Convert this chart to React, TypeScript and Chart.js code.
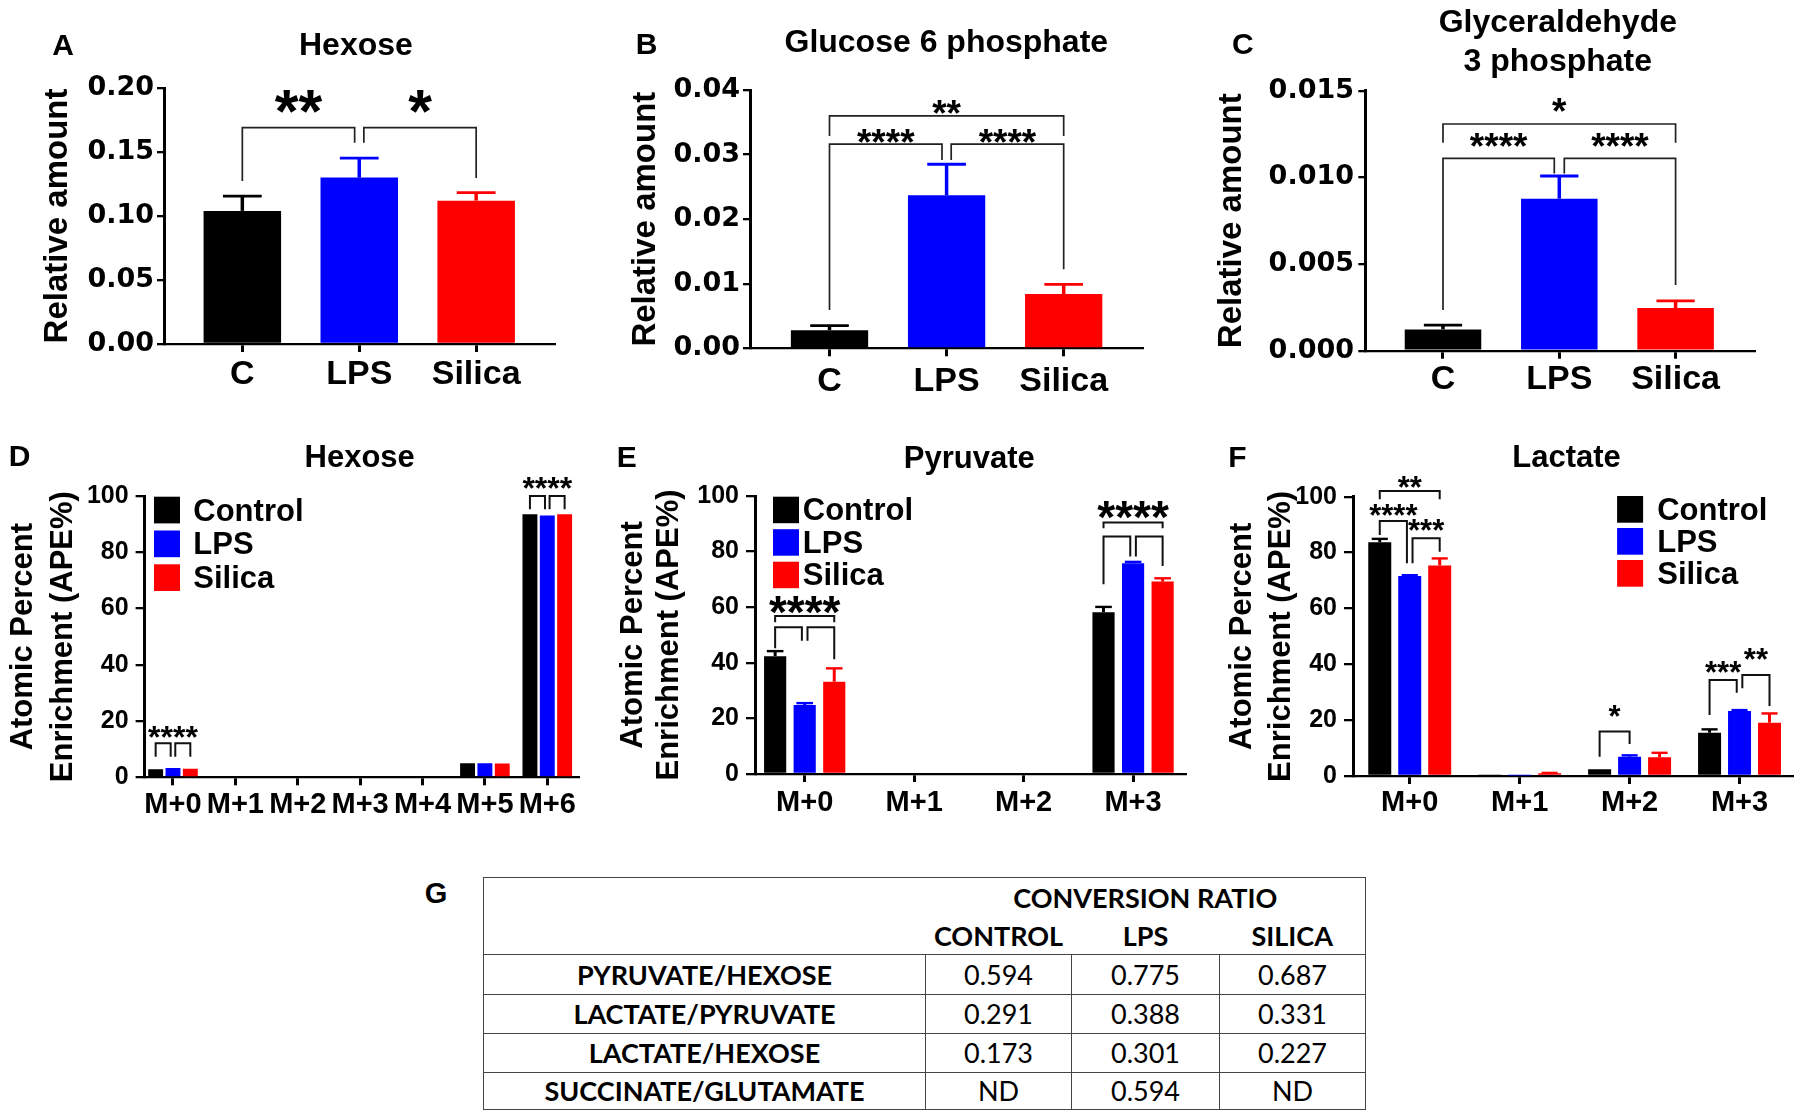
import React, { useEffect, useRef } from "react";
import { Chart, registerables } from "chart.js";

Chart.register(...registerables);

// ---------------- data ----------------
const groupLabels = ["C", "LPS", "Silica"];
const groupColors = ["#000000", "#0000ff", "#ff0000"];

const hexoseRel = [0.104, 0.13, 0.112];
const hexoseRelSem = [0.0115, 0.0152, 0.0063];
const hexoseRelTicks = [0, 0.05, 0.1, 0.15, 0.2];

const g6pRel = [0.0028, 0.0237, 0.0084];
const g6pRelSem = [0.0007, 0.0048, 0.0015];
const g6pRelTicks = [0, 0.01, 0.02, 0.03, 0.04];

const g3pRel = [0.00123, 0.00877, 0.00246];
const g3pRelSem = [0.00025, 0.00131, 0.00041];
const g3pRelTicks = [0, 0.005, 0.01, 0.015];

const seriesNames = ["Control", "LPS", "Silica"];
const apeTicks = [0, 20, 40, 60, 80, 100];

const hexIsotopologues = ["M+0", "M+1", "M+2", "M+3", "M+4", "M+5", "M+6"];
const hexControl = [2.9, 0, 0, 0, 0, 5.0, 93.5];
const hexLps = [3.3, 0, 0, 0, 0, 5.0, 93.1];
const hexSilica = [3.0, 0, 0, 0, 0, 4.9, 93.5];

const pyrIsotopologues = ["M+0", "M+1", "M+2", "M+3"];
const pyrControl = [42.4, 0, 0, 58.2];
const pyrControlSem = [1.8, 0, 0, 1.9];
const pyrLps = [24.8, 0, 0, 75.8];
const pyrLpsSem = [0.7, 0, 0, 0.5];
const pyrSilica = [33.2, 0, 0, 69.2];
const pyrSilicaSem = [4.8, 0, 0, 1.2];

const lacIsotopologues = ["M+0", "M+1", "M+2", "M+3"];
const lacControl = [83.7, 0.5, 2.4, 15.5];
const lacControlSem = [1.2, 0, 0, 1.2];
const lacLps = [71.6, 0.2, 6.9, 23.3];
const lacLpsSem = [0.3, 0, 0.5, 0.3];
const lacSilica = [75.4, 1.0, 6.7, 19.1];
const lacSilicaSem = [2.5, 0.1, 1.6, 3.3];

// significance brackets (value units):
// [catA, seriesA, catB, seriesB, yTop, yDropA, yDropB, yLabel, label]
const hexoseRelSig = [
  [0, 0, 1, 0, 0.169, 0.1273, 0.1573, 0.1883, "**"],
  [1, 0, 2, 0, 0.169, 0.1573, 0.1297, 0.1883, "*"],
];
const g6pSig = [
  [0, 0, 2, 0, 0.036, 0.03286, 0.03286, 0.03724, "**"],
  [0, 0, 1, 0, 0.03163, 0.00593, 0.02915, 0.03271, "****"],
  [1, 0, 2, 0, 0.03163, 0.02915, 0.01223, 0.03271, "****"],
];
const g3pSig = [
  [0, 0, 2, 0, 0.01308, 0.012, 0.012, 0.01408, "*"],
  [0, 0, 1, 0, 0.0111, 0.00235, 0.01023, 0.01206, "****"],
  [1, 0, 2, 0, 0.0111, 0.01023, 0.00379, 0.01206, "****"],
];
const hexApeSig = [
  [0, 0, 0, 1, 12.1, 7.3, 7.3, 0, ""],
  [0, 1, 0, 2, 12.1, 7.3, 7.3, 0, ""],
  [6, 0, 6, 1, 100.0, 95.3, 95.3, 0, ""],
  [6, 1, 6, 2, 100.0, 95.3, 95.3, 0, ""],
];
// [cat, series, yLabel, label]
const hexApeSigLabels = [
  [0, 1, 15.9, "****"],
  [6, 1, 104.5, "****"],
];
const pyrSig = [
  [0, 0, 0, 2, 56.8, 54.6, 54.6, 60.5, "****"],
  [0, 0, 0, 1, 52.8, 45.2, 47.9, 0, ""],
  [0, 1, 0, 2, 52.8, 47.9, 41.3, 0, ""],
  [3, 0, 3, 2, 90.5, 88.4, 88.4, 94.7, "****"],
  [3, 0, 3, 1, 85.4, 68.3, 78.2, 0, ""],
  [3, 1, 3, 2, 85.4, 78.2, 74.8, 0, ""],
];
const lacSig = [
  [0, 0, 0, 2, 102.0, 99.1, 99.1, 104.8, "**"],
  [0, 0, 0, 1, 91.3, 86.3, 76.2, 95.0, "****"],
  [0, 1, 0, 2, 85.1, 76.2, 80.3, 89.5, "***"],
  [2, 0, 2, 1, 15.9, 6.9, 11.5, 22.7, "*"],
  [3, 0, 3, 1, 34.4, 21.8, 29.8, 38.6, "***"],
  [3, 1, 3, 2, 36.2, 31.4, 25.1, 43.3, "**"],
];

// table G
const ratioHeader = "CONVERSION RATIO";
const ratioGroups = ["CONTROL", "LPS", "SILICA"];
const ratioRows = ["PYRUVATE/HEXOSE", "LACTATE/PYRUVATE", "LACTATE/HEXOSE", "SUCCINATE/GLUTAMATE"];
const ratioControl = ["0.594", "0.291", "0.173", "ND"];
const ratioLps = ["0.775", "0.388", "0.301", "0.594"];
const ratioSilica = ["0.687", "0.331", "0.227", "ND"];

// ---------------- layout / style ----------------
const FONT = '"Liberation Sans", Arial, Helvetica, sans-serif';
const WIDE_FONT = '"DejaVu Sans", "Liberation Sans", Arial, sans-serif';
const STAR_MID = 0.48;

const isoSeries = (c: number[], l: number[], s: number[], cs?: number[], ls?: number[], ss?: number[]) => [
  { name: seriesNames[0], color: groupColors[0], values: c, sem: cs },
  { name: seriesNames[1], color: groupColors[1], values: l, sem: ls },
  { name: seriesNames[2], color: groupColors[2], values: s, sem: ss },
];

const relCommon = {
  yTickFont: WIDE_FONT, yTickSize: 27, yTickLen: 7, xTickLen: 8,
  yTitle: "Relative amount", yTitleSize: 33, yTitleLH: 1.1,
  xTickSize: 34, titleSize: 32,
  sigWidth: 1.7, sigColor: "#222", errWidth: 3.5, capRatio: 0.5, legend: null, sigLabels: [],
  yBorder: 3, xBorder: 2.3,
};
const apeCommon = {
  yTickFont: FONT, yTickSize: 25, yTickLen: 9, xTickLen: 8,
  yTitle: ["Atomic Percent", "Enrichment (APE%)"], yTitleSize: 31,
  xTickSize: 29, titleSize: 31, yTicks: apeTicks, yDec: 0,
  sigWidth: 2, sigColor: "#111", errWidth: 3, yBorder: 3, xBorder: 2.3,
};

const panels: any[] = [
  {
    ...relCommon,
    key: "A", box: [0, 0, 600, 420], area: [164, 88, 554.5, 344],
    cats: groupLabels, xRange: [-0.67, 2.67], catPct: 1, barPct: 0.663,
    series: [{ name: "Hexose", color: groupColors, values: hexoseRel, sem: hexoseRelSem }],
    yTicks: hexoseRelTicks, yDec: 2, yTitleX: 58.4,
    xTickCenter: 375, yTickRight: 154,
    title: ["Hexose"], titleX: 355.9, titleY: [46],
    letter: "A", letterX: 63.1, letterY: 46.7,
    sig: hexoseRelSig, starSize: 61, gap: 4.6,
  },
  {
    ...relCommon,
    key: "B", box: [600, 0, 600, 420], area: [750.0, 90, 1142.6, 348.3],
    cats: groupLabels, xRange: [-0.679, 2.674], catPct: 1, barPct: 0.66,
    series: [{ name: "Glucose 6 phosphate", color: groupColors, values: g6pRel, sem: g6pRelSem }],
    yTicks: g6pRelTicks, yDec: 2, yTitleX: 645.9,
    xTickCenter: 381.7, yTickRight: 740,
    title: ["Glucose 6 phosphate"], titleX: 946.3, titleY: [43.3],
    letter: "B", letterX: 646.7, letterY: 45.3,
    sig: g6pSig, starSize: 37, gap: 4.6,
  },
  {
    ...relCommon,
    key: "C", box: [1200, 0, 600, 420], area: [1365.3, 90.7, 1754.1, 350.7],
    cats: groupLabels, xRange: [-0.668, 2.675], catPct: 1, barPct: 0.658,
    series: [{ name: "Glyceraldehyde 3 phosphate", color: groupColors, values: g3pRel, sem: g3pRelSem }],
    yTicks: g3pRelTicks, yDec: 3, yTitleX: 1232.1,
    xTickCenter: 380, yTickRight: 1354,
    title: ["Glyceraldehyde", "3 phosphate"], titleX: 1557.8, titleY: [23.3, 62.5],
    letter: "C", letterX: 1242.8, letterY: 45.8,
    sig: g3pSig, starSize: 37, gap: 5,
  },
  {
    ...apeCommon,
    key: "D", box: [0, 420, 600, 440], area: [144.6, 496, 578.6, 777.3],
    cats: hexIsotopologues, xRange: [-0.455, 6.502], catPct: 0.834, barPct: 0.86,
    series: isoSeries(hexControl, hexLps, hexSilica),
    yTitleLH: 1.29, yTitleX: 23,
    xTickCenter: 805, yTickRight: 128.6,
    title: ["Hexose"], titleX: 359.7, titleY: [458.3],
    letter: "D", letterX: 19.7, letterY: 457.3,
    sig: hexApeSig, sigLabels: hexApeSigLabels, starSize: 32, gap: 2.3, capRatio: 0.7,
    legend: { x: 154, y: 496.7, sw: 26, sh: 26.7, pitch: 33.8, tx: 193.3, size: 31 },
  },
  {
    ...apeCommon,
    key: "E", box: [600, 420, 600, 440], area: [755, 496, 1185.5, 774],
    cats: pyrIsotopologues, xRange: [-0.454, 3.479], catPct: 0.81, barPct: 0.75,
    series: isoSeries(pyrControl, pyrLps, pyrSilica, pyrControlSem, pyrLpsSem, pyrSilicaSem),
    yTitleLH: 1.18, yTitleX: 633.3,
    xTickCenter: 803, yTickRight: 739,
    title: ["Pyruvate"], titleX: 969.3, titleY: [459.3],
    letter: "E", letterX: 626.7, letterY: 459,
    sig: pyrSig, sigLabels: [], starSize: 46, gap: 2.8, capRatio: 0.75,
    legend: { x: 773, y: 496.7, sw: 26, sh: 26.5, pitch: 32.5, tx: 802.8, size: 31 },
  },
  {
    ...apeCommon,
    key: "F", box: [1200, 420, 600, 440], area: [1353, 496.7, 1792.3, 776],
    cats: lacIsotopologues, xRange: [-0.516, 3.48], catPct: 0.818, barPct: 0.767,
    series: isoSeries(lacControl, lacLps, lacSilica, lacControlSem, lacLpsSem, lacSilicaSem),
    yTitleLH: 1.26, yTitleX: 1242.1,
    xTickCenter: 802.5, yTickRight: 1337,
    title: ["Lactate"], titleX: 1566.5, titleY: [458.3],
    letter: "F", letterX: 1237.3, letterY: 458.3,
    sig: lacSig, sigLabels: [], starSize: 31, gap: 2.8, capRatio: 0.7,
    legend: { x: 1617.1, y: 496, sw: 26, sh: 26.7, pitch: 32, tx: 1657.2, size: 31 },
  },
];

function makeOverlay(p: any) {
  const ox = p.box[0];
  const oy = p.box[1];
  return {
    id: "overlay" + p.key,
    afterDatasetsDraw(chart: any) {
      const ctx = chart.ctx;
      const ys = chart.scales.y;
      ctx.save();
      // error bars (upper SEM)
      p.series.forEach((s: any, di: number) => {
        const meta = chart.getDatasetMeta(di);
        meta.data.forEach((bar: any, i: number) => {
          const e = s.sem ? s.sem[i] : 0;
          if (!e) return;
          const col = Array.isArray(s.color) ? s.color[i] : s.color;
          const top = ys.getPixelForValue(s.values[i] + e);
          const half = (bar.width * p.capRatio) / 2;
          ctx.strokeStyle = col;
          ctx.lineCap = "butt";
          ctx.lineWidth = p.errWidth;
          ctx.beginPath();
          ctx.moveTo(bar.x, bar.y);
          ctx.lineTo(bar.x, top);
          ctx.stroke();
          ctx.lineWidth = p.errWidth * 0.8;
          ctx.beginPath();
          ctx.moveTo(bar.x - half, top);
          ctx.lineTo(bar.x + half, top);
          ctx.stroke();
        });
      });
      // significance brackets
      const xOf = (c: number, s: number) => chart.getDatasetMeta(s).data[c].x;
      ctx.strokeStyle = p.sigColor;
      ctx.lineWidth = p.sigWidth;
      ctx.lineJoin = "miter";
      ctx.fillStyle = "#000";
      ctx.font = `bold ${p.starSize}px ${FONT}`;
      ctx.textAlign = "center";
      ctx.textBaseline = "alphabetic";
      p.sig.forEach((b: any) => {
        const [ca, sa, cb, sb, yTop, yA, yB, yT, label] = b;
        let xa = xOf(ca, sa);
        let xb = xOf(cb, sb);
        if (p.sig.some((o: any) => o !== b && o[0] === cb && o[1] === sb)) xb -= p.gap;
        if (p.sig.some((o: any) => o !== b && o[2] === ca && o[3] === sa)) xa += p.gap;
        const pt = ys.getPixelForValue(yTop);
        ctx.beginPath();
        ctx.moveTo(xa, ys.getPixelForValue(yA));
        ctx.lineTo(xa, pt);
        ctx.lineTo(xb, pt);
        ctx.lineTo(xb, ys.getPixelForValue(yB));
        ctx.stroke();
        if (label) ctx.fillText(label, (xa + xb) / 2, ys.getPixelForValue(yT) + p.starSize * STAR_MID);
      });
      (p.sigLabels || []).forEach((l: any) => {
        const [c, s, yT, label] = l;
        ctx.fillText(label, xOf(c, s), ys.getPixelForValue(yT) + p.starSize * STAR_MID);
      });
      ctx.restore();
    },
    afterDraw(chart: any) {
      const ctx = chart.ctx;
      ctx.save();
      ctx.fillStyle = "#000";
      ctx.textAlign = "center";
      ctx.textBaseline = "middle";
      ctx.font = `bold ${p.titleSize}px ${FONT}`;
      p.title.forEach((t: string, i: number) => ctx.fillText(t, p.titleX - ox, p.titleY[i] - oy));
      ctx.font = `bold 30px ${FONT}`;
      ctx.fillText(p.letter, p.letterX - ox, p.letterY - oy);
      if (p.legend) {
        const lg = p.legend;
        ctx.font = `bold ${lg.size}px ${FONT}`;
        ctx.textAlign = "left";
        p.series.forEach((s: any, i: number) => {
          const y = lg.y - oy + i * lg.pitch;
          ctx.fillStyle = s.color;
          ctx.fillRect(lg.x - ox, y, lg.sw, lg.sh);
          ctx.fillStyle = "#000";
          ctx.fillText(s.name, lg.tx - ox, y + lg.sh / 2 + 2);
        });
      }
      ctx.restore();
    },
  };
}

function BarPanel({ p }: { p: any }) {
  const ref = useRef<HTMLCanvasElement>(null);
  const [ox, oy, W, H] = p.box;
  useEffect(() => {
    const canvas = ref.current as HTMLCanvasElement;
    const L = p.area[0] - ox;
    const T = p.area[1] - oy;
    const R = p.area[2] - ox;
    const B = p.area[3] - oy;
    const yTitleLh = p.yTitleSize * p.yTitleLH;
    const mkFont = (family: string, size: number, lh = 1.2) => ({ family, size, weight: "bold" as const, lineHeight: lh });
    const chart = new Chart(canvas, {
      type: "bar",
      data: {
        datasets: p.series.map((s: any) => ({
          label: s.name,
          data: s.values.map((v: number, i: number) => ({ x: i, y: v })),
          backgroundColor: s.color,
          borderWidth: 0,
          categoryPercentage: p.catPct,
          barPercentage: p.barPct,
        })),
      },
      options: {
        animation: false,
        responsive: false,
        devicePixelRatio: 1,
        events: [],
        layout: { padding: { left: 0, top: T, right: W - R, bottom: 0 } },
        plugins: { legend: { display: false }, tooltip: { enabled: false }, title: { display: false } },
        scales: {
          x: {
            type: "linear",
            offset: false,
            min: p.xRange[0],
            max: p.xRange[1],
            z: 1,
            afterBuildTicks: (sc: any) => {
              sc.ticks = p.cats.map((_: string, i: number) => ({ value: i }));
            },
            afterFit: (sc: any) => {
              sc.height = H - B;
            },
            ticks: {
              autoSkip: false,
              maxRotation: 0,
              minRotation: 0,
              color: "#000",
              font: mkFont(FONT, p.xTickSize),
              padding: p.xTickCenter - p.area[3] - p.xTickLen - (p.xTickSize * 1.2) / 2,
              callback: (v: any) => p.cats[Math.round(Number(v))] ?? "",
            },
            grid: { offset: false, drawOnChartArea: false, drawTicks: true, tickLength: p.xTickLen, lineWidth: p.yBorder, color: "#000" },
            border: { display: true, width: p.xBorder, color: "#000" },
          },
          y: {
            type: "linear",
            min: p.yTicks[0],
            max: p.yTicks[p.yTicks.length - 1],
            afterBuildTicks: (sc: any) => {
              sc.ticks = p.yTicks.map((v: number) => ({ value: v }));
            },
            afterFit: (sc: any) => {
              sc.width = L;
            },
            ticks: {
              color: "#000",
              font: mkFont(p.yTickFont, p.yTickSize),
              padding: Math.max(0, p.area[0] - p.yTickLen - p.yTickRight),
              callback: (v: any) => Number(v).toFixed(p.yDec),
            },
            title: {
              display: true,
              text: p.yTitle,
              color: "#000",
              font: mkFont(FONT, p.yTitleSize, p.yTitleLH),
              padding: { top: p.yTitleX - ox - yTitleLh / 2, bottom: 0 },
            },
            grid: { drawOnChartArea: false, drawTicks: true, tickLength: p.yTickLen, lineWidth: p.xBorder, color: "#000" },
            border: { display: true, width: p.yBorder, color: "#000" },
          },
        },
      } as any,
      plugins: [makeOverlay(p)],
    });
    return () => chart.destroy();
  }, []);
  return (
    <canvas
      ref={ref}
      width={W}
      height={H}
      style={{ position: "absolute", left: ox, top: oy, width: W, height: H, display: "block" }}
    />
  );
}

const tableBorder = "1.5px solid #444";

function RatioTable() {
  const rows = ratioRows.map((r, i) => [r, ratioControl[i], ratioLps[i], ratioSilica[i]]);
  const rowH = [40, 39, 39, 37];
  const cell = { textAlign: "center" as const, padding: 0, lineHeight: "30px" };
  return (
    <table
      style={{
        position: "absolute",
        left: 483,
        top: 877,
        width: 882,
        borderCollapse: "collapse",
        tableLayout: "fixed",
        fontFamily: "Lato, 'Open Sans', sans-serif",
        fontSize: 27,
        color: "#000",
        border: tableBorder,
      }}
    >
      <colgroup>
        <col style={{ width: 442 }} />
        <col style={{ width: 146 }} />
        <col style={{ width: 148 }} />
        <col style={{ width: 146 }} />
      </colgroup>
      <tbody>
        <tr style={{ height: 40 }}>
          <td style={cell} />
          <td colSpan={3} style={{ ...cell, fontWeight: 700 }}>
            {ratioHeader}
          </td>
        </tr>
        <tr style={{ height: 37 }}>
          <td style={{ ...cell, borderBottom: tableBorder }} />
          {ratioGroups.map((g) => (
            <td key={g} style={{ ...cell, fontWeight: 700, borderBottom: tableBorder }}>
              {g}
            </td>
          ))}
        </tr>
        {rows.map((r, i) => (
          <tr key={i} style={{ height: rowH[i] }}>
            {r.map((c, j) => (
              <td key={j} style={{ ...cell, border: tableBorder, fontWeight: j === 0 ? 700 : 400 }}>
                {c}
              </td>
            ))}
          </tr>
        ))}
      </tbody>
    </table>
  );
}

export default function App() {
  return (
    <div
      style={{
        position: "absolute",
        left: 0,
        top: 0,
        width: 1800,
        height: 1120,
        background: "#fff",
        overflow: "hidden",
      }}
    >
      {panels.map((p) => (
        <BarPanel key={p.key} p={p} />
      ))}
      <div
        style={{
          position: "absolute",
          left: 416,
          top: 878,
          width: 40,
          textAlign: "center",
          font: `bold 29px ${FONT}`,
          lineHeight: "30px",
          color: "#000",
        }}
      >
        G
      </div>
      <RatioTable />
    </div>
  );
}
